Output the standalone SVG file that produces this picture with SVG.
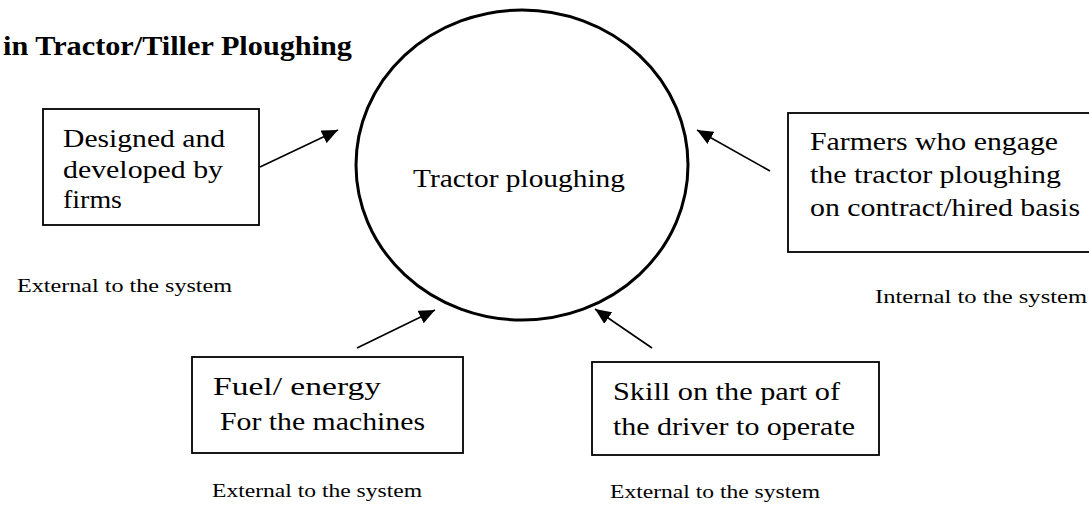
<svg xmlns="http://www.w3.org/2000/svg" width="1089" height="509" viewBox="0 0 1089 509">
<style>
.box{fill:#fff;stroke:#000;stroke-width:1.8}
.t{font-family:"Liberation Serif","Times New Roman",serif;font-size:26px;fill:#000}
.s{font-family:"Liberation Serif","Times New Roman",serif;font-size:19px;fill:#000}
.title{font-family:"Liberation Serif","Times New Roman",serif;font-size:27px;font-weight:bold;fill:#000}
.conn{stroke:#000;stroke-width:1.6;fill:none}
</style>
<defs>
<marker id="ah" markerUnits="userSpaceOnUse" markerWidth="18" markerHeight="14" refX="16" refY="7" orient="auto">
<path d="M0,0 L16,7 L0,14 Z" fill="#000"/>
</marker>
</defs>
<rect width="1089" height="509" fill="#fff"/>
<text class="title" x="3" y="55" textLength="349" lengthAdjust="spacingAndGlyphs">in Tractor/Tiller Ploughing</text>

<g id="center">
<ellipse cx="522" cy="165" rx="166" ry="155" fill="none" stroke="#000" stroke-width="3"/>
<text class="t" x="413" y="187" textLength="212" lengthAdjust="spacingAndGlyphs">Tractor ploughing</text>
</g>

<g id="designed">
<rect class="box" x="43" y="109" width="216" height="116"/>
<text class="t" x="63" y="147" textLength="162" lengthAdjust="spacingAndGlyphs">Designed and</text>
<text class="t" x="63" y="178" textLength="160" lengthAdjust="spacingAndGlyphs">developed by</text>
<text class="t" x="63" y="208" textLength="59" lengthAdjust="spacingAndGlyphs">firms</text>
</g>
<text class="s" x="17" y="292" textLength="215" lengthAdjust="spacingAndGlyphs">External to the system</text>

<g id="farmers">
<rect class="box" x="788" y="113" width="305" height="139"/>
<text class="t" x="810" y="150" textLength="248" lengthAdjust="spacingAndGlyphs">Farmers who engage</text>
<text class="t" x="810" y="183" textLength="251" lengthAdjust="spacingAndGlyphs">the tractor ploughing</text>
<text class="t" x="810" y="216" textLength="270" lengthAdjust="spacingAndGlyphs">on contract/hired basis</text>
</g>
<text class="s" x="875" y="303" textLength="212" lengthAdjust="spacingAndGlyphs">Internal to the system</text>

<g id="fuel">
<rect class="box" x="192" y="357" width="271" height="96"/>
<text class="t" x="213" y="395" textLength="168" lengthAdjust="spacingAndGlyphs">Fuel/ energy</text>
<text class="t" x="220" y="430" textLength="205" lengthAdjust="spacingAndGlyphs">For the machines</text>
</g>
<text class="s" x="212" y="497" textLength="210" lengthAdjust="spacingAndGlyphs">External to the system</text>

<g id="skill">
<rect class="box" x="592" y="362" width="287" height="93"/>
<text class="t" x="613" y="400" textLength="227" lengthAdjust="spacingAndGlyphs">Skill on the part of</text>
<text class="t" x="613" y="435" textLength="242" lengthAdjust="spacingAndGlyphs">the driver to operate</text>
</g>
<text class="s" x="610" y="498" textLength="210" lengthAdjust="spacingAndGlyphs">External to the system</text>

<g id="connectors">
<line class="conn" x1="260" y1="167" x2="338" y2="130" marker-end="url(#ah)"/>
<line class="conn" x1="770" y1="171" x2="697" y2="130" marker-end="url(#ah)"/>
<line class="conn" x1="357" y1="348" x2="435" y2="310" marker-end="url(#ah)"/>
<line class="conn" x1="652" y1="348" x2="595" y2="309" marker-end="url(#ah)"/>
</g>
</svg>
